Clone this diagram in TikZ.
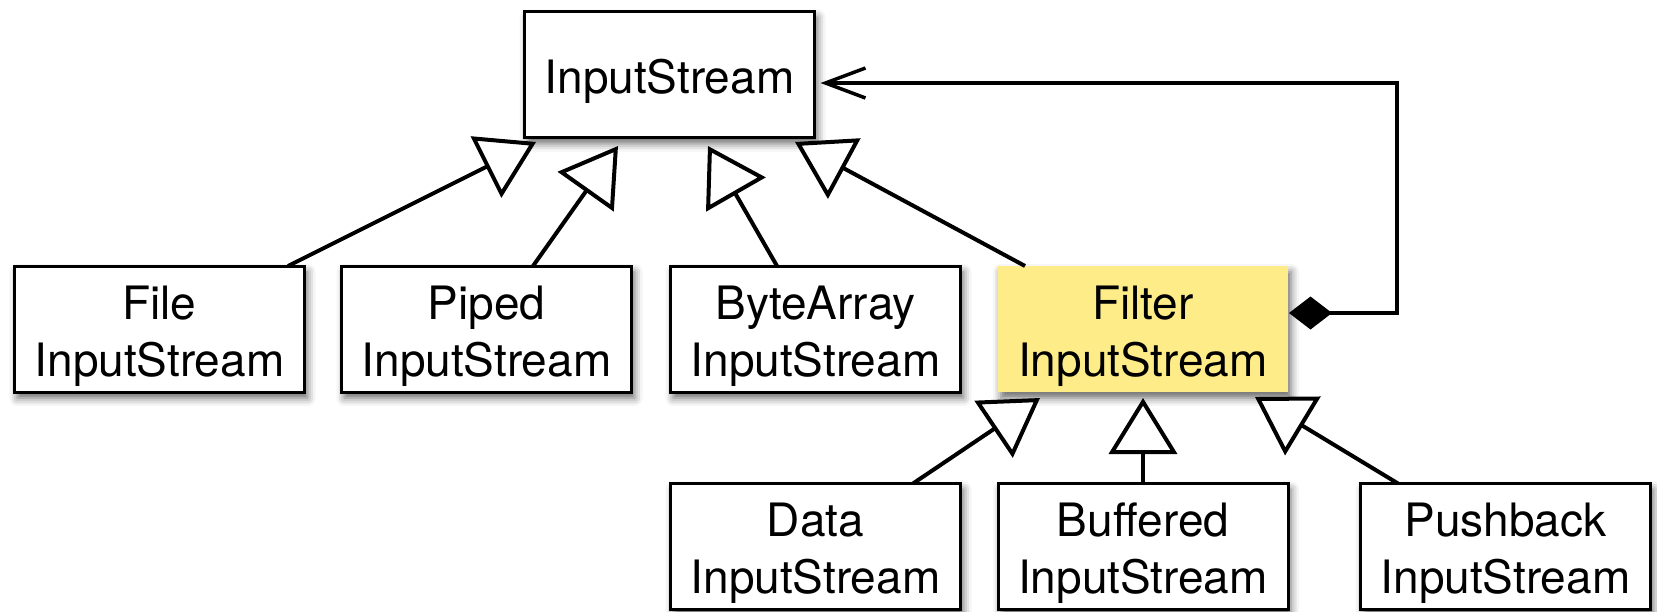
\documentclass[tikz,border=0pt]{standalone}
\usepackage{fontspec}
\setmainfont{TeX Gyre Heros}
\usetikzlibrary{arrows.meta,shadows.blur}
\definecolor{filteryellow}{RGB}{253,236,135}
\begin{document}
\begin{tikzpicture}[x=1pt,y=-1pt,
  cls/.style={draw=black, line width=3pt, fill=white, minimum width=290pt, minimum height=126pt,
    inner sep=0pt, outer sep=0pt,
    blur shadow={shadow xshift=3pt, shadow yshift=-6pt, shadow blur radius=8pt, shadow opacity=60}},
  hl/.style={cls, draw=none, fill=filteryellow},
  lbl/.style={inner sep=0pt, align=center, font=\fontsize{46}{57}\selectfont},
  gen/.style={line width=4pt, -{Triangle[length=56pt, width=68pt, fill=white, line width=4pt]}},
  comp/.style={line width=4pt, {Diamond[length=43pt, width=33pt, fill=black]}-{Straight Barb[length=40pt, width=30pt, line width=3.5pt]}}
]
\useasboundingbox (0,0) rectangle (1657,611);

\node[cls] (is) at (669.5,74.5) {};
\node[cls] (file) at (159.5,329) {};
\node[cls] (piped) at (486.5,329) {};
\node[cls] (byte) at (815.5,329) {};
\node[hl] (filter) at (1143,329) {};
\node[cls] (data) at (815.5,546.5) {};
\node[cls] (buff) at (1143,546.5) {};
\node[cls] (push) at (1505.5,546.5) {};

\node[lbl] (isT) at ([yshift=-7pt]is.center) {InputStream};
\node[lbl] (fileT) at ([yshift=-7pt]file.center) {File\\InputStream};
\node[lbl] (pipedT) at ([yshift=-7pt]piped.center) {Piped\\InputStream};
\node[lbl] (byteT) at ([yshift=-7pt]byte.center) {ByteArray\\InputStream};
\node[lbl] (filterT) at ([yshift=-7pt]filter.center) {Filter\\InputStream};
\node[lbl] (dataT) at ([yshift=-7pt]data.center) {Data\\InputStream};
\node[lbl] (buffT) at ([yshift=-7pt]buff.center) {Buffered\\InputStream};
\node[lbl] (pushT) at ([yshift=-7pt]push.center) {Pushback\\InputStream};

\coordinate (t1) at (536,142);
\coordinate (t2) at (618,146);
\coordinate (t3) at (708,146);
\coordinate (t4) at (795,142);
\coordinate (t5) at (1040,398);
\coordinate (t6) at (1143,398);
\coordinate (t7) at (1255,397);

\draw[gen] ([xshift=128.5pt]file.north) -- (t1);
\draw[gen] ([xshift=46.5pt]piped.north) -- (t2);
\draw[gen] ([xshift=-38.5pt]byte.north) -- (t3);
\draw[gen] ([xshift=-118pt]filter.north) -- (t4);
\draw[gen] ([xshift=97.5pt]data.north) -- (t5);
\draw[gen] (buff.north) -- (t6);
\draw[gen] ([xshift=-107.5pt]push.north) -- (t7);

\coordinate (c1) at (1397,313);
\coordinate (c2) at (1397,83);
\coordinate (isin) at ([xshift=6pt,yshift=-8.5pt]is.east);
\draw[comp] ([xshift=1pt,yshift=16pt]filter.east) -- (c1) -- (c2) -- (isin);
\end{tikzpicture}
\end{document}
